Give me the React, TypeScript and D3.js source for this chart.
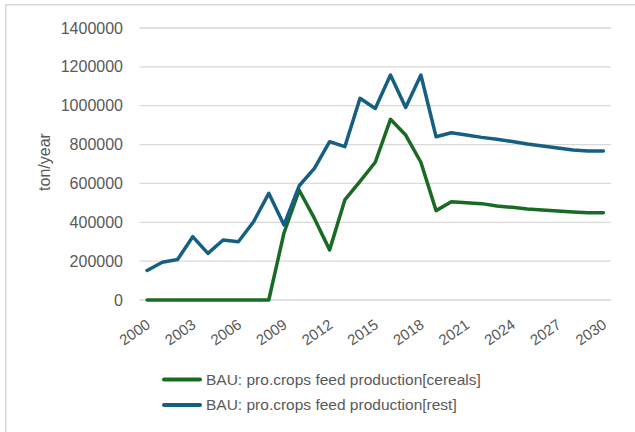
import React from "react";
import * as d3 from "d3";

const years: number[] = d3.range(2000, 2031);
const cereals: number[] = [
  0, 0, 0, 0, 0, 0, 0, 0, 0, 345000, 565000, 420000, 258000, 515000, 610000, 709000,
  930000, 849000, 709000, 460000, 506000, 501000, 496000, 484000, 477000, 468000,
  463000, 458000, 453000, 449000, 449000,
];
const rest: number[] = [
  152000, 194000, 208000, 326000, 240000, 309000, 300000, 403000, 549000, 386000,
  588000, 678000, 815000, 789000, 1038000, 986000, 1158000, 991000, 1158000, 840000,
  861000, 849000, 837000, 827000, 816000, 803000, 793000, 782000, 772000, 767000, 767000,
];
const yTicks: number[] = [0, 200000, 400000, 600000, 800000, 1000000, 1200000, 1400000];
const xTickYears: number[] = [2000, 2003, 2006, 2009, 2012, 2015, 2018, 2021, 2024, 2027, 2030];
const seriesNames: string[] = [
  "BAU: pro.crops feed production[cereals]",
  "BAU: pro.crops feed production[rest]",
];
const seriesColors: string[] = ["#196B24", "#156082"];

const W = 635;
const H = 432;
const FONT = "'Liberation Sans', Arial, sans-serif";
const TEXT = "#595959";

export default function App() {
  const x = d3.scaleBand<number>().domain(years).range([139.5, 611]).padding(0);
  const cx = (yr: number) => (x(yr) as number) + x.bandwidth() / 2;
  const y = d3.scaleLinear().domain([0, 1400000]).range([300, 28]);

  const line = d3
    .line<number>()
    .x((_, i) => cx(years[i]))
    .y((v) => y(v));

  const series = [cereals, rest];

  return (
    <svg
      width={W}
      height={H}
      style={{ position: "absolute", left: 0, top: 0, background: "#fff" }}
      fontFamily={FONT}
    >
      <rect x={5.75} y={4.75} width={W + 10} height={H + 10} fill="#fff" stroke="#d9d9d9" strokeWidth={1.5} />

      {yTicks.map((t) => (
        <g key={t}>
          <line x1={139.5} x2={611} y1={y(t)} y2={y(t)} stroke="#d9d9d9" strokeWidth={1.3} />
          <text x={123} y={y(t)} dy="0.35em" textAnchor="end" fontSize={16} fill={TEXT}>
            {t}
          </text>
        </g>
      ))}

      <text
        transform={`translate(50,162) rotate(-90)`}
        textAnchor="middle"
        fontSize={16}
        fill={TEXT}
      >
        ton/year
      </text>

      {xTickYears.map((yr) => (
        <text
          key={yr}
          transform={`translate(${cx(yr) - 2},${318}) rotate(-35)`}
          textAnchor="end"
          dy="0.72em"
          fontSize={15}
          fill={TEXT}
        >
          {yr}
        </text>
      ))}

      {series.map((s, i) => (
        <path
          key={i}
          d={line(s) as string}
          fill="none"
          stroke={seriesColors[i]}
          strokeWidth={3.5}
          strokeLinejoin="round"
          strokeLinecap="round"
        />
      ))}

      {seriesNames.map((name, i) => (
        <g key={name} transform={`translate(0,${379.5 + i * 25.5})`}>
          <line x1={164} x2={200} y1={0} y2={0} stroke={seriesColors[i]} strokeWidth={4} strokeLinecap="round" />
          <text x={206} y={0} dy="0.35em" fontSize={15.5} fill={TEXT}>
            {name}
          </text>
        </g>
      ))}
    </svg>
  );
}
